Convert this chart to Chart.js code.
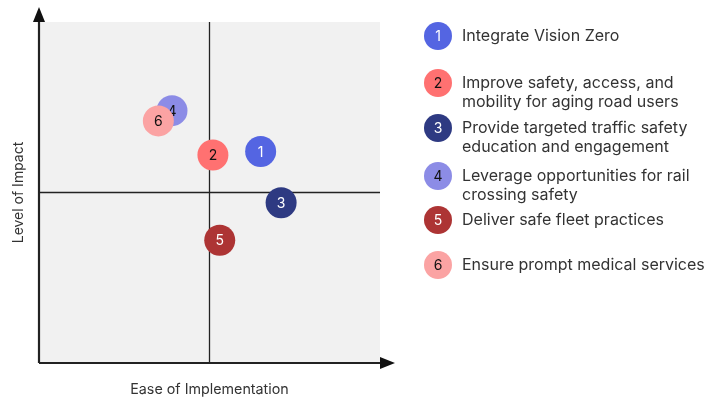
<!DOCTYPE html>
<html>
<head>
<meta charset="utf-8">
<script src="https://cdn.jsdelivr.net/npm/chart.js@4.4.0/dist/chart.umd.min.js"></script>
<style>
  html, body { margin: 0; padding: 0; background: #fff; }
  #wrap { position: relative; width: 708px; height: 400px; }
  #legend { position: absolute; left: 0; top: 0; font-family: Inter, sans-serif; color: #333; }
  .item { position: absolute; left: 424px; display: flex; align-items: flex-start; }
  .dot { width: 28px; height: 28px; border-radius: 50%; flex: none;
         font-size: 14px; line-height: 28px; text-align: center; }
  .txt { margin-left: 10px; margin-top: 4px; font-size: 16px; line-height: 19px; white-space: nowrap; }
</style>
</head>
<body>
<div id="wrap">
  <canvas id="matrix"></canvas>
  <div id="legend"></div>
</div>
<script>
// quadrant chart: ease of implementation vs level of impact

const numbers = ["1", "2", "3", "4", "5", "6"];
const strategies = [
  ["Integrate Vision Zero"],
  ["Improve safety, access, and", "mobility for aging road users"],
  ["Provide targeted traffic safety", "education and engagement"],
  ["Leverage opportunities for rail", "crossing safety"],
  ["Deliver safe fleet practices"],
  ["Ensure prompt medical services"]
];
const ease = [6.5, 5.1, 7.1, 3.9, 5.3, 3.5];
const impact = [6.2, 6.1, 4.7, 7.4, 3.6, 7.1];
const colors = ["#5465e2", "#ff7171", "#2e3a82", "#8c8ce6", "#ad3434", "#fba3a3"];
const numColors = ["#fff", "#111", "#fff", "#111", "#fff", "#111"];

const FONT = "Inter, sans-serif";

// ------------------------------
// Background, midlines, arrowed axes
// ------------------------------
const quadrantPlugin = {
  id: "quadrant",
  beforeDatasetsDraw(chart) {
    const { ctx, chartArea: a, scales } = chart;
    const midX = scales.x.getPixelForValue(5);
    const midY = scales.y.getPixelForValue(5);
    ctx.save();
    ctx.fillStyle = "#f1f1f1";
    ctx.fillRect(a.left, a.top, a.right - a.left, a.bottom - a.top);

    ctx.strokeStyle = "#222";
    ctx.lineWidth = 1.3;
    ctx.beginPath();
    ctx.moveTo(midX, a.top);
    ctx.lineTo(midX, a.bottom);
    ctx.moveTo(a.left, midY);
    ctx.lineTo(a.right, midY);
    ctx.stroke();

    ctx.lineWidth = 2.2;
    ctx.beginPath();
    ctx.moveTo(a.left, a.bottom);
    ctx.lineTo(a.left, a.top - 4);
    ctx.moveTo(a.left, a.bottom);
    ctx.lineTo(a.right + 2, a.bottom);
    ctx.stroke();

    ctx.fillStyle = "#111";
    ctx.beginPath();
    ctx.moveTo(a.left - 6, a.top);
    ctx.lineTo(a.left + 6, a.top);
    ctx.lineTo(a.left, a.top - 15);
    ctx.closePath();
    ctx.fill();
    ctx.beginPath();
    ctx.moveTo(a.right, a.bottom - 6);
    ctx.lineTo(a.right, a.bottom + 6);
    ctx.lineTo(a.right + 15, a.bottom);
    ctx.closePath();
    ctx.fill();
    ctx.restore();
  },
  afterDatasetDraw(chart, args) {
    const i = args.index;
    const pt = args.meta.data[0];
    if (!pt) return;
    const ctx = chart.ctx;
    ctx.save();
    ctx.fillStyle = numColors[i];
    ctx.font = "14px " + FONT;
    ctx.textAlign = "center";
    ctx.textBaseline = "middle";
    ctx.fillText(numbers[i], pt.x, pt.y + 1);
    ctx.restore();
  }
};

function renderChart() {
  const ctx = document.getElementById("matrix").getContext("2d");
  const datasets = numbers.map((n, i) => ({
    label: n,
    data: [{ x: ease[i], y: impact[i] }],
    backgroundColor: colors[i],
    borderWidth: 0,
    pointRadius: 15.5,
    pointHoverRadius: 15.5,
    order: numbers.length - i
  }));

  new Chart(ctx, {
    type: "scatter",
    data: { datasets },
    options: {
      responsive: true,
      maintainAspectRatio: false,
      animation: false,
      events: [],
      layout: { padding: { top: 22, right: 328, left: 0, bottom: 0 } },
      plugins: { legend: { display: false }, tooltip: { enabled: false } },
      scales: {
        x: {
          type: "linear", min: 0, max: 10,
          grid: { display: false }, border: { display: false }, ticks: { display: false },
          title: { display: true, text: "Ease of Implementation", color: "#333",
                   font: { family: FONT, size: 14.3 }, padding: { top: 0, bottom: 2 } },
          afterFit(s) { s.height = 37; }
        },
        y: {
          type: "linear", min: 0, max: 10,
          grid: { display: false }, border: { display: false }, ticks: { display: false },
          title: { display: true, text: "Level of Impact", color: "#333",
                   font: { family: FONT, size: 14 }, padding: { top: 10, bottom: 0 } },
          afterFit(s) { s.width = 39; }
        }
      }
    },
    plugins: [quadrantPlugin]
  });
}

// ------------------------------
// Legend
// ------------------------------
function renderLegend() {
  const tops = [22, 69, 114, 162, 206, 251];
  const box = document.getElementById("legend");
  numbers.forEach((n, i) => {
    const item = document.createElement("div");
    item.className = "item";
    item.style.top = tops[i] + "px";
    const dot = document.createElement("div");
    dot.className = "dot";
    dot.style.background = colors[i];
    dot.style.color = numColors[i];
    dot.textContent = n;
    const txt = document.createElement("div");
    txt.className = "txt";
    txt.innerHTML = strategies[i].join("<br>");
    item.appendChild(dot);
    item.appendChild(txt);
    box.appendChild(item);
  });
}

document.addEventListener("DOMContentLoaded", () => {
  renderChart();
  renderLegend();
});
</script>
</body>
</html>
